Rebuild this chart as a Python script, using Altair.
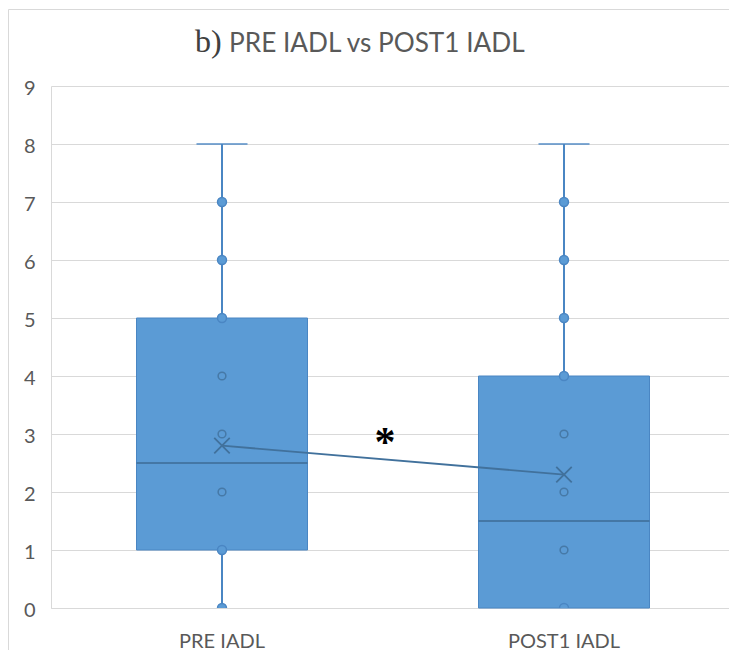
import altair as alt
import pandas as pd

# ---- data ----
categories = ["PRE IADL", "POST1 IADL"]
mins = [0, 0]
q1s = [1, 0]
medians = [2.5, 1.5]
q3s = [5, 4]
maxs = [8, 8]
means = [2.8, 2.3]
pre_points = [0, 1, 2, 3, 4, 5, 6, 7]
post_points = [0, 1, 2, 3, 4, 5, 6, 7]
title_prefix = "b)"
title_text = "PRE IADL vs POST1 IADL"
sig_label = "*"
sig_level = 3.0
y_ticks = list(range(10))

summary = pd.DataFrame({
    "cat": categories, "mn": mins, "q1": q1s, "med": medians,
    "q3": q3s, "mx": maxs, "mean": means,
})

rows = []
for cat, pts, lo, hi in [(categories[0], pre_points, q1s[0], q3s[0]),
                         (categories[1], post_points, q1s[1], q3s[1])]:
    for v in pts:
        rows.append({"cat": cat, "value": v, "inside": bool(lo < v < hi)})
points = pd.DataFrame(rows)

BLUE = "#5B9BD5"
EDGE = "#4A86C3"
DARK = "#41719C"
GRID = "#D9D9D9"
TXT = "#595959"
FONT = "Lato"

W, H = 678, 522
XR = [0, 684]

xs = alt.X("cat:N", sort=categories,
           scale=alt.Scale(paddingInner=0, paddingOuter=0, range=XR),
           axis=alt.Axis(title=None, labelAngle=0, labelFont=FONT, labelFontSize=20,
                         labelColor=TXT, labelPadding=23, ticks=False,
                         domainColor=GRID, grid=False))
ys = alt.Y("q1:Q", scale=alt.Scale(domain=[0, 9], nice=False),
           axis=alt.Axis(title=None, values=y_ticks, format="d", labelFont=FONT,
                         labelFontSize=20, labelColor=TXT, labelPadding=16, ticks=False,
                         labelOffset=2, domainColor=GRID, gridColor=GRID, gridWidth=1))

xc = alt.X("cat:N", sort=categories)
base = alt.Chart(summary)

frame = pd.DataFrame({"k": [0]})
border_left = alt.Chart(frame).mark_rule(stroke=GRID, strokeWidth=1).encode(
    x=alt.value(-42.5), y=alt.value(-76.5), y2=alt.value(900))
border_top = alt.Chart(frame).mark_rule(stroke=GRID, strokeWidth=1).encode(
    x=alt.value(-42.5), x2=alt.value(900), y=alt.value(-76.5))

box = base.mark_bar(size=171, color=BLUE, stroke=EDGE, strokeWidth=1).encode(
    x=xs, y=ys, y2="q3:Q")

whisk_hi = base.mark_rule(color=EDGE, strokeWidth=2).encode(x=xc, y="q3:Q", y2="mx:Q")
whisk_lo = base.mark_rule(color=EDGE, strokeWidth=2).encode(x=xc, y="mn:Q", y2="q1:Q")
cap = base.mark_tick(size=51, thickness=2, color=EDGE).encode(x=xc, y="mx:Q")
median = base.mark_tick(size=171, thickness=2, color=DARK, opacity=0.85).encode(
    x=xc, y="med:Q")

pts_filled = alt.Chart(points).transform_filter("!datum.inside").mark_point(
    filled=True, size=80, fill=BLUE, stroke=EDGE, strokeWidth=1.5, opacity=1, clip=True
).encode(x=xc, y="value:Q")
pts_open = alt.Chart(points).transform_filter("datum.inside").mark_point(
    filled=False, size=60, stroke=DARK, strokeWidth=1.5, opacity=0.8, clip=True
).encode(x=xc, y="value:Q")

mean_line = base.mark_line(color=DARK, strokeWidth=1.8).encode(x=xc, y="mean:Q")
mean_mark = base.mark_point(
    shape="M-1,-1L1,1M-1,1L1,-1", size=240, stroke=DARK, strokeWidth=1.8,
    filled=False, opacity=1
).encode(x=xc, y="mean:Q")

star = alt.Chart(pd.DataFrame({"t": [sig_label], "v": [sig_level]})).mark_text(
    font="Liberation Serif", fontSize=42, fontWeight="bold", color="black",
    align="center", baseline="middle", dy=9
).encode(x=alt.value(334), y="v:Q", text="t:N")

t1 = alt.Chart(pd.DataFrame({"t": [title_prefix]})).mark_text(
    font="Liberation Serif", fontSize=32, color="#404040", align="left",
    baseline="alphabetic"
).encode(x=alt.value(144), y=alt.value(-34), text="t:N")
t2 = alt.Chart(pd.DataFrame({"t": [title_text]})).mark_text(
    font=FONT, fontSize=26.2, color=TXT, align="left", baseline="alphabetic"
).encode(x=alt.value(178), y=alt.value(-34), text="t:N")

chart = alt.layer(
    border_left, border_top, box, whisk_hi, whisk_lo, cap, median, pts_filled,
    pts_open, mean_line, mean_mark, star, t1, t2
).properties(
    width=W, height=H,
    padding={"left": 43, "top": 78, "right": 0, "bottom": 42},
    autosize=alt.AutoSizeParams(type="none"),
    background="white",
).configure_view(stroke=None)

chart.save("out.html", embed_options={"renderer": "svg", "actions": False})
